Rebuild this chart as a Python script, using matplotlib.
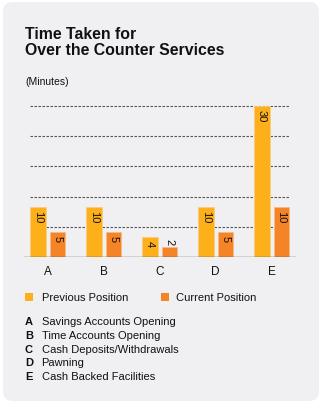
import matplotlib
matplotlib.use("Agg")
import matplotlib.pyplot as plt
from matplotlib.patches import FancyBboxPatch
import numpy as np

categories = ["A", "B", "C", "D", "E"]
previous = [10, 10, 4, 10, 30]
current = [5, 5, 2, 5, 10]
series_names = ["Previous Position", "Current Position"]
descriptions = ["Savings Accounts Opening", "Time Accounts Opening",
                "Cash Deposits/Withdrawals", "Pawning", "Cash Backed Facilities"]
title = "Time Taken for\nOver the Counter Services"
unit = "(Minutes)"

C_PREV = "#FDB01A"
C_CUR = "#F58426"
BG = "#F0F0F2"
TXT = "#111111"
FONT = "Liberation Sans"

W, H = 322, 406
fig = plt.figure(figsize=(W / 100, H / 100), dpi=100)
fig.patch.set_facecolor("white")

def fx(px):
    return px / W

def fy(py):
    return 1 - py / H

panel = FancyBboxPatch((fx(3), fy(402)), fx(316), 399 / H,
                       boxstyle="round,pad=0,rounding_size=0.03",
                       transform=fig.transFigure, facecolor=BG, edgecolor="none",
                       mutation_aspect=W / H, zorder=-5)
fig.patches.append(panel)

# axes: x 24..296 px, y 107..258 px (value 0..30)
ax_left, ax_right = 24, 296
ax_top, ax_bot = 107, 258
ax = fig.add_axes([fx(ax_left), fy(ax_bot), fx(ax_right - ax_left), (ax_bot - ax_top) / H])
ax.set_zorder(2)
ax.set_facecolor("none")
x = np.arange(len(categories))
px_per_unit = 56.0
xmin = (ax_left - 47.5) / px_per_unit
xmax = (ax_right - 47.5) / px_per_unit
ax.set_xlim(xmin, xmax)
ax.set_ylim(0, 30)

bw = 15.5 / px_per_unit
off = 9.75 / px_per_unit

for yv in [6, 12, 18, 24, 30]:
    ax.hlines(yv, -off - bw / 2, 4 + off + bw / 2, colors="#555555",
              linestyles=(0, (2.2, 1.4)), linewidth=0.8, zorder=1, clip_on=False)

b1 = ax.bar(x - off, previous, width=bw, color=C_PREV, edgecolor="#FCCB80",
            linewidth=0.6, zorder=2)
b2 = ax.bar(x + off, current, width=bw, color=C_CUR, edgecolor="#F8B88A",
            linewidth=0.6, zorder=2)

for bars, vals in ((b1, previous), (b2, current)):
    for r, v in zip(bars, vals):
        cx = r.get_x() + r.get_width() / 2
        if v >= 3:
            ax.text(cx, v - 0.6, str(v), rotation=-90, ha="center", va="top",
                    fontsize=8, color=TXT, family=FONT, zorder=3)
        else:
            ax.text(cx, v + 0.6, str(v), rotation=-90, ha="center", va="bottom",
                    fontsize=8, color=TXT, family=FONT, zorder=3)

ax.axhline(0, color="#555555", linewidth=1.0, zorder=3)
for s in ax.spines.values():
    s.set_visible(False)
ax.set_yticks([])
ax.set_xticks(x)
ax.set_xticklabels(categories, fontsize=8.5, family=FONT, color=TXT)
ax.tick_params(axis="x", length=0, pad=6)

fig.text(fx(25), fy(27), title, fontsize=11.4, fontweight="bold", family=FONT,
         color=TXT, ha="left", va="top", linespacing=1.12)
fig.text(fx(25), fy(82), unit, fontsize=7.5, family=FONT, color=TXT,
         ha="left", va="center")

# legend
for (sx, tx), name, col in zip(((25, 41.5), (160.5, 176.5)), series_names, (C_PREV, C_CUR)):
    fig.patches.append(plt.Rectangle((fx(sx), fy(302)), fx(8), 8 / H,
                                     transform=fig.transFigure, facecolor=col,
                                     edgecolor="none"))
    fig.text(fx(tx), fy(298), name, fontsize=8, family=FONT, color=TXT,
             ha="left", va="center")

for i, (c, d) in enumerate(zip(categories, descriptions)):
    yy = 322.5 + i * 13.6
    fig.text(fx(25), fy(yy), c, fontsize=8, fontweight="bold", family=FONT,
             color=TXT, ha="left", va="center")
    fig.text(fx(41.5), fy(yy), d, fontsize=8, family=FONT, color=TXT,
             ha="left", va="center")

fig.savefig("out.png", dpi=100, facecolor="white")
